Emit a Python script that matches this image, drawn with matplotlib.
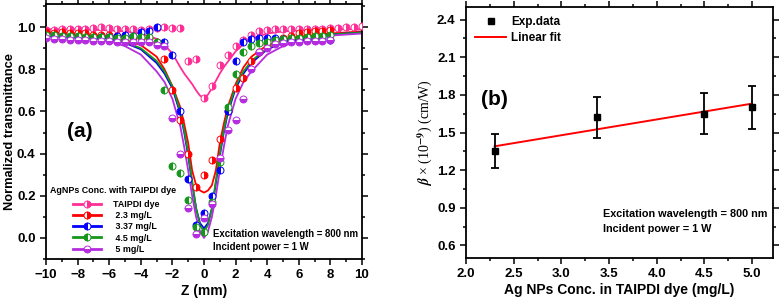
"""Z-scan open aperture curves (a) and beta vs AgNPs concentration (b)."""

import matplotlib

matplotlib.use("Agg")
import matplotlib.pyplot as plt
from matplotlib.lines import Line2D
from matplotlib.ticker import MultipleLocator

plt.rcParams["font.family"] = ["Liberation Sans", "DejaVu Sans"]
plt.rcParams["font.weight"] = "bold"
plt.rcParams["axes.labelweight"] = "bold"
plt.rcParams["mathtext.fontset"] = "stix"

# ---- panel (a): measured points, 0.5 mm steps ----
Z_POINTS = [-10, -9.5, -9, -8.5, -8, -7.5, -7, -6.5, -6, -5.5, -5, -4.5, -4, -3.5,
            -3, -2.5, -2, -1.5, -1, -0.5, 0, 0.5, 1, 1.5, 2, 2.5, 3, 3.5, 4, 4.5,
            5, 5.5, 6, 6.5, 7, 7.5, 8, 8.5, 9, 9.5, 10]

T_DYE = [0.985, 0.985, 0.99, 0.99, 0.99, 0.99, 0.995, 1.0, 0.995, 0.99, 0.99, 0.99,
         0.985, 0.99, 0.995, 1.0, 0.995, 0.995, 0.84, 0.85, 0.665, 0.72, 0.82, 0.87,
         0.91, 0.94, 0.965, 0.98, 0.985, 0.99, 0.99, 0.99, 0.99, 0.99, 0.99, 0.99,
         0.995, 0.995, 1.0, 1.0, 1.005]
T_23 = [0.975, 0.97, 0.975, 0.97, 0.97, 0.97, 0.965, 0.965, 0.965, 0.96, 0.96, 0.955,
        0.95, 0.95, 0.93, 0.85, 0.70, 0.56, 0.40, 0.24, 0.30, 0.37, 0.47, 0.60, 0.71,
        0.76, 0.84, 0.88, 0.92, 0.94, 0.95, 0.96, 0.97, 0.975, 0.98, 0.98, 0.985]
T_337 = [0.96, 0.96, 0.955, 0.955, 0.95, 0.95, 0.95, 0.955, 0.955, 0.96, 0.965, 0.96,
         0.975, 0.98, 1.0, 0.93, 0.87, 0.60, 0.28, 0.06, 0.12, 0.20, 0.32, 0.60, 0.84,
         0.93, 0.945, 0.95, 0.95, 0.95, 0.945, 0.94, 0.94, 0.94, 0.94, 0.95, 0.94]
T_45 = [0.965, 0.965, 0.96, 0.96, 0.96, 0.955, 0.955, 0.955, 0.955, 0.95, 0.95, 0.96,
        0.955, 0.955, 0.93, 0.70, 0.34, 0.31, 0.18, 0.05, 0.03, 0.17, 0.36, 0.62, 0.78,
        0.88, 0.91, 0.925, 0.93, 0.94, 0.945, 0.95, 0.95, 0.955, 0.96, 0.96, 0.965]
T_5 = [0.95, 0.945, 0.945, 0.94, 0.94, 0.94, 0.935, 0.935, 0.935, 0.93, 0.93, 0.93,
       0.93, 0.93, 0.915, 0.91, 0.57, 0.40, 0.14, 0.02, 0.095, 0.16, 0.38, 0.51, 0.56,
       0.66, 0.80, 0.88, 0.90, 0.92, 0.925, 0.93, 0.93, 0.935, 0.935, 0.935, 0.94]

# ---- panel (a): fitted curves ----
Z_FIT = [-10, -8, -6, -5, -4, -3, -2.5, -2, -1.5, -1.25, -1, -0.75, -0.5, -0.25, 0,
         0.25, 0.5, 0.75, 1, 1.25, 1.5, 2, 2.5, 3, 4, 5, 6, 8, 10]
FIT_DYE = [0.99, 0.99, 0.985, 0.98, 0.97, 0.945, 0.915, 0.875, 0.81, 0.78, 0.755, 0.73,
           0.70, 0.675, 0.665, 0.68, 0.71, 0.745, 0.78, 0.81, 0.835, 0.885, 0.92,
           0.945, 0.97, 0.98, 0.985, 0.99, 0.99]
FIT_23 = [0.975, 0.97, 0.955, 0.94, 0.915, 0.86, 0.80, 0.72, 0.62, 0.54, 0.45, 0.32,
          0.25, 0.225, 0.215, 0.225, 0.25, 0.32, 0.45, 0.54, 0.62, 0.73, 0.81, 0.86,
          0.915, 0.94, 0.955, 0.97, 0.98]
FIT_337 = [0.975, 0.965, 0.945, 0.925, 0.895, 0.83, 0.78, 0.71, 0.59, 0.50, 0.39, 0.26,
           0.14, 0.07, 0.045, 0.07, 0.14, 0.26, 0.39, 0.50, 0.59, 0.71, 0.78, 0.83,
           0.895, 0.925, 0.945, 0.965, 0.975]
FIT_45 = [0.975, 0.965, 0.95, 0.93, 0.90, 0.84, 0.79, 0.72, 0.60, 0.51, 0.40, 0.27,
          0.14, 0.06, 0.03, 0.06, 0.14, 0.27, 0.40, 0.51, 0.60, 0.72, 0.79, 0.84, 0.90,
          0.93, 0.95, 0.965, 0.975]
FIT_5 = [0.97, 0.96, 0.935, 0.91, 0.87, 0.79, 0.74, 0.66, 0.53, 0.43, 0.32, 0.20, 0.10,
         0.03, 0.0, 0.03, 0.10, 0.20, 0.32, 0.43, 0.53, 0.66, 0.74, 0.79, 0.87, 0.91,
         0.935, 0.96, 0.97]

SERIES_LABELS = ["TAIPDI dye", " 2.3 mg/L", " 3.37 mg/L", " 4.5 mg/L", " 5 mg/L"]
SERIES_COLORS = ["#FF2E97", "#FF0000", "#0000FF", "#16961A", "#B52BE0"]
SERIES_FILL = ["right", "right", "left", "left", "bottom"]

# ---- panel (b) ----
CONC = [2.3, 3.37, 4.5, 5.0]
BETA = [1.35, 1.62, 1.65, 1.70]
BETA_ERR = [0.135, 0.16, 0.165, 0.17]
FIT_CONC = [2.3, 5.0]
FIT_BETA = [1.39, 1.73]

TICK_SIZE = 9.5
LABEL_SIZE = 10
MARKER_SIZE = 5.0


def style_axes(ax):
    for spine in ax.spines.values():
        spine.set_linewidth(1.3)
    ax.tick_params(which="both", direction="out", width=1.1, labelsize=TICK_SIZE)
    ax.tick_params(which="major", length=4)
    ax.tick_params(which="minor", length=2.5)
    ax.tick_params(which="both", top=True, right=True)


def plot_zscan(ax):
    points = [T_DYE, T_23, T_337, T_45, T_5]
    fits = [FIT_DYE, FIT_23, FIT_337, FIT_45, FIT_5]
    handles = []
    for t_vals, fit, color, fill, label in zip(points, fits, SERIES_COLORS,
                                                SERIES_FILL, SERIES_LABELS):
        ax.plot(Z_FIT, fit, color=color, lw=1.3, zorder=2)
        ax.plot(Z_POINTS[:len(t_vals)], t_vals, ls="none", marker="o", ms=MARKER_SIZE,
                color=color, fillstyle=fill, markerfacecoloralt="white",
                mec=color, mew=0.7, zorder=3)
        handles.append(Line2D([], [], color=color, lw=2, marker="o", ms=MARKER_SIZE,
                              fillstyle=fill, markerfacecoloralt="white",
                              mec=color, mew=0.7, label=label))

    ax.set_xlim(-10, 10)
    ax.set_ylim(-0.1, 1.11)
    ax.xaxis.set_major_locator(MultipleLocator(2))
    ax.xaxis.set_minor_locator(MultipleLocator(1))
    ax.yaxis.set_major_locator(MultipleLocator(0.2))
    ax.yaxis.set_minor_locator(MultipleLocator(0.1))
    ax.set_xlabel("Z (mm)", fontsize=LABEL_SIZE, labelpad=2)
    ax.set_ylabel("Normalized transmittance", fontsize=9.3, labelpad=1)
    style_axes(ax)

    # legend title sits left of the indented entries
    ax.text(0.013, 0.27, "AgNPs Conc. with TAIPDI dye", transform=ax.transAxes,
            fontsize=6.4, fontweight="bold", va="center")
    ax.legend(handles=handles, loc="upper left", bbox_to_anchor=(0.065, 0.255),
              frameon=False, fontsize=6.4, handlelength=3.2, handletextpad=1.3,
              labelspacing=0.24, borderpad=0.2, numpoints=1)

    ax.text(0.108, 0.50, "(a)", transform=ax.transAxes, fontsize=15,
            fontweight="bold", ha="center", va="center")
    ax.text(0.528, 0.098, "Excitation wavelength = 800 nm", transform=ax.transAxes,
            fontsize=6.9, fontweight="bold", va="center")
    ax.text(0.528, 0.048, "Incident power = 1 W", transform=ax.transAxes,
            fontsize=6.9, fontweight="bold", va="center")


def plot_beta(ax):
    ax.errorbar(CONC, BETA, yerr=BETA_ERR, fmt="s", color="black", ms=4.5,
                elinewidth=1.3, capsize=3, capthick=1.3, zorder=3)
    ax.plot(FIT_CONC, FIT_BETA, color="#FF0000", lw=1.4, zorder=2)

    ax.set_xlim(2.0, 5.22)
    ax.set_ylim(0.5, 2.5)
    ax.xaxis.set_major_locator(MultipleLocator(0.5))
    ax.xaxis.set_minor_locator(MultipleLocator(0.25))
    ax.yaxis.set_minor_locator(MultipleLocator(0.15))
    ax.set_yticks([0.6, 0.9, 1.2, 1.5, 1.8, 2.1, 2.4])
    ax.set_xlabel("Ag NPs Conc. in TAIPDI dye (mg/L)", fontsize=LABEL_SIZE, labelpad=2)
    ax.set_ylabel(r"$\beta$ × (10$^{-9}$) (cm/W)", fontsize=10,
                  family=["Liberation Serif", "DejaVu Serif"], fontweight="normal",
                  labelpad=2)
    style_axes(ax)

    handles = [
        Line2D([], [], ls="none", marker="s", ms=4.5, color="black"),
        Line2D([], [], color="#FF0000", lw=1.4),
    ]
    ax.legend(handles, ["Exp.data", "Linear fit"], loc="upper left", frameon=False,
              fontsize=8.5, handlelength=2.6, handletextpad=0.4, borderpad=0.3,
              labelspacing=0.3, numpoints=1)

    ax.text(0.445, 0.175, "Excitation wavelength = 800 nm", transform=ax.transAxes,
            fontsize=7.8, fontweight="bold", va="center")
    ax.text(0.445, 0.115, "Incident power = 1 W", transform=ax.transAxes,
            fontsize=7.8, fontweight="bold", va="center")
    ax.text(0.091, 0.63, "(b)", transform=ax.transAxes, fontsize=15,
            fontweight="bold", ha="center", va="center")


def main():
    fig = plt.figure(figsize=(7.81, 3.02), dpi=100)
    ax_a = fig.add_axes([0.0589, 0.1424, 0.4046, 0.8444])
    ax_b = fig.add_axes([0.5967, 0.1457, 0.3931, 0.8311])
    plot_zscan(ax_a)
    plot_beta(ax_b)
    fig.savefig("out.png", dpi=100)


if __name__ == "__main__":
    main()
